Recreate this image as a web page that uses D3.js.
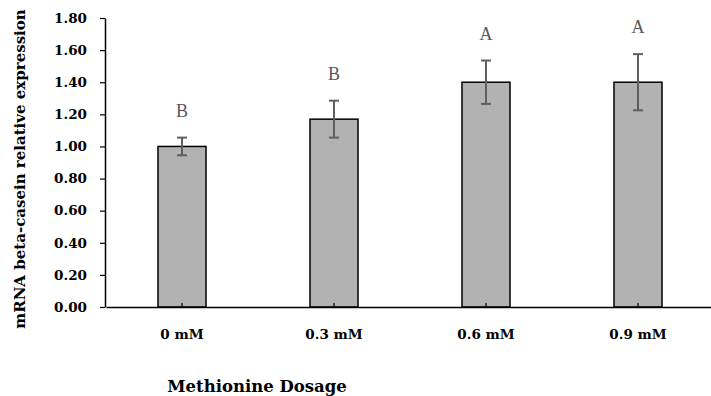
<!DOCTYPE html>
<html>
<head>
<meta charset="utf-8">
<script src="https://cdn.jsdelivr.net/npm/d3@7"></script>
<style>
  body { margin: 0; background: #fff; }
  svg { display: block; }
</style>
</head>
<body>
<div id="chart"></div>
<script>
// data
const categories = ["0 mM", "0.3 mM", "0.6 mM", "0.9 mM"];
const means = [1.00, 1.17, 1.40, 1.40];
const errors = [0.055, 0.115, 0.135, 0.175];
const letters = ["B", "B", "A", "A"];
const yTicks = [0, 0.2, 0.4, 0.6, 0.8, 1.0, 1.2, 1.4, 1.6, 1.8];

const W = 711, H = 396;
const font = "'DejaVu Serif', 'Liberation Serif', serif";
const thinFont = "'Liberation Serif', serif";

const svg = d3.select("#chart").append("svg")
    .attr("width", W)
    .attr("height", H);

const x = d3.scaleBand()
    .domain(categories)
    .range([106, 714])
    .paddingInner(0)
    .paddingOuter(0);

const y = d3.scaleLinear()
    .domain([0, 1.8])
    .range([307, 18]);

const barW = 48;

// bars
svg.selectAll(".bar")
    .data(means)
    .enter().append("rect")
    .attr("class", "bar")
    .attr("x", (d, i) => x(categories[i]) + x.bandwidth() / 2 - barW / 2)
    .attr("y", d => y(d))
    .attr("width", barW)
    .attr("height", d => y(0) - y(d))
    .attr("fill", "#b2b2b2")
    .attr("stroke", "#000")
    .attr("stroke-width", 1.5);

// error bars
const err = svg.append("g").attr("class", "errors");
means.forEach((m, i) => {
    const cx = x(categories[i]) + x.bandwidth() / 2;
    const g = err.append("g").attr("stroke", "#5f5f5f").attr("stroke-width", 2);
    g.append("line").attr("x1", cx).attr("x2", cx).attr("y1", y(m + errors[i])).attr("y2", y(m - errors[i]));
    g.append("line").attr("x1", cx - 5).attr("x2", cx + 5).attr("y1", y(m + errors[i])).attr("y2", y(m + errors[i]));
    g.append("line").attr("x1", cx - 5).attr("x2", cx + 5).attr("y1", y(m - errors[i])).attr("y2", y(m - errors[i]));
});

// significance letters
svg.selectAll(".letter")
    .data(letters)
    .enter().append("text")
    .attr("class", "letter")
    .attr("x", (d, i) => x(categories[i]) + x.bandwidth() / 2)
    .attr("y", (d, i) => y(means[i] + errors[i]) - 21)
    .attr("text-anchor", "middle")
    .attr("font-family", thinFont)
    .attr("font-size", 18)
    .attr("fill", "#595959")
    .text(d => d);

// y axis
const yAxis = svg.append("g")
    .attr("transform", "translate(105,0)")
    .call(d3.axisLeft(y).tickValues(yTicks).tickFormat(d3.format(".2f")).tickSize(5).tickSizeOuter(0));
yAxis.select(".domain").attr("stroke", "#000").attr("stroke-width", 1.5);
yAxis.selectAll(".tick line").attr("stroke", "#000").attr("stroke-width", 1.2);
yAxis.selectAll("text")
    .attr("x", -18)
    .attr("font-family", font)
    .attr("font-weight", "bold")
    .attr("font-size", 13.5)
    .attr("fill", "#000");

// x axis
const xAxis = svg.append("g")
    .attr("transform", "translate(0,307)")
    .call(d3.axisBottom(x).tickSize(-4).tickSizeOuter(0));
xAxis.select(".domain").attr("stroke", "#000").attr("stroke-width", 1.5);
xAxis.selectAll(".tick line").attr("stroke", "#000").attr("stroke-width", 1.2);
xAxis.selectAll("text")
    .attr("y", 22)
    .attr("font-family", font)
    .attr("font-weight", "bold")
    .attr("font-size", 13.5)
    .attr("fill", "#000");

// axis titles
svg.append("text")
    .attr("transform", "translate(25,169) rotate(-90)")
    .attr("text-anchor", "middle")
    .attr("font-family", font)
    .attr("font-weight", "bold")
    .attr("font-size", 15)
    .attr("fill", "#000")
    .text("mRNA beta-casein relative expression");

svg.append("text")
    .attr("x", 257)
    .attr("y", 392)
    .attr("text-anchor", "middle")
    .attr("font-family", font)
    .attr("font-weight", "bold")
    .attr("font-size", 16.5)
    .attr("fill", "#000")
    .text("Methionine Dosage");
</script>
</body>
</html>
